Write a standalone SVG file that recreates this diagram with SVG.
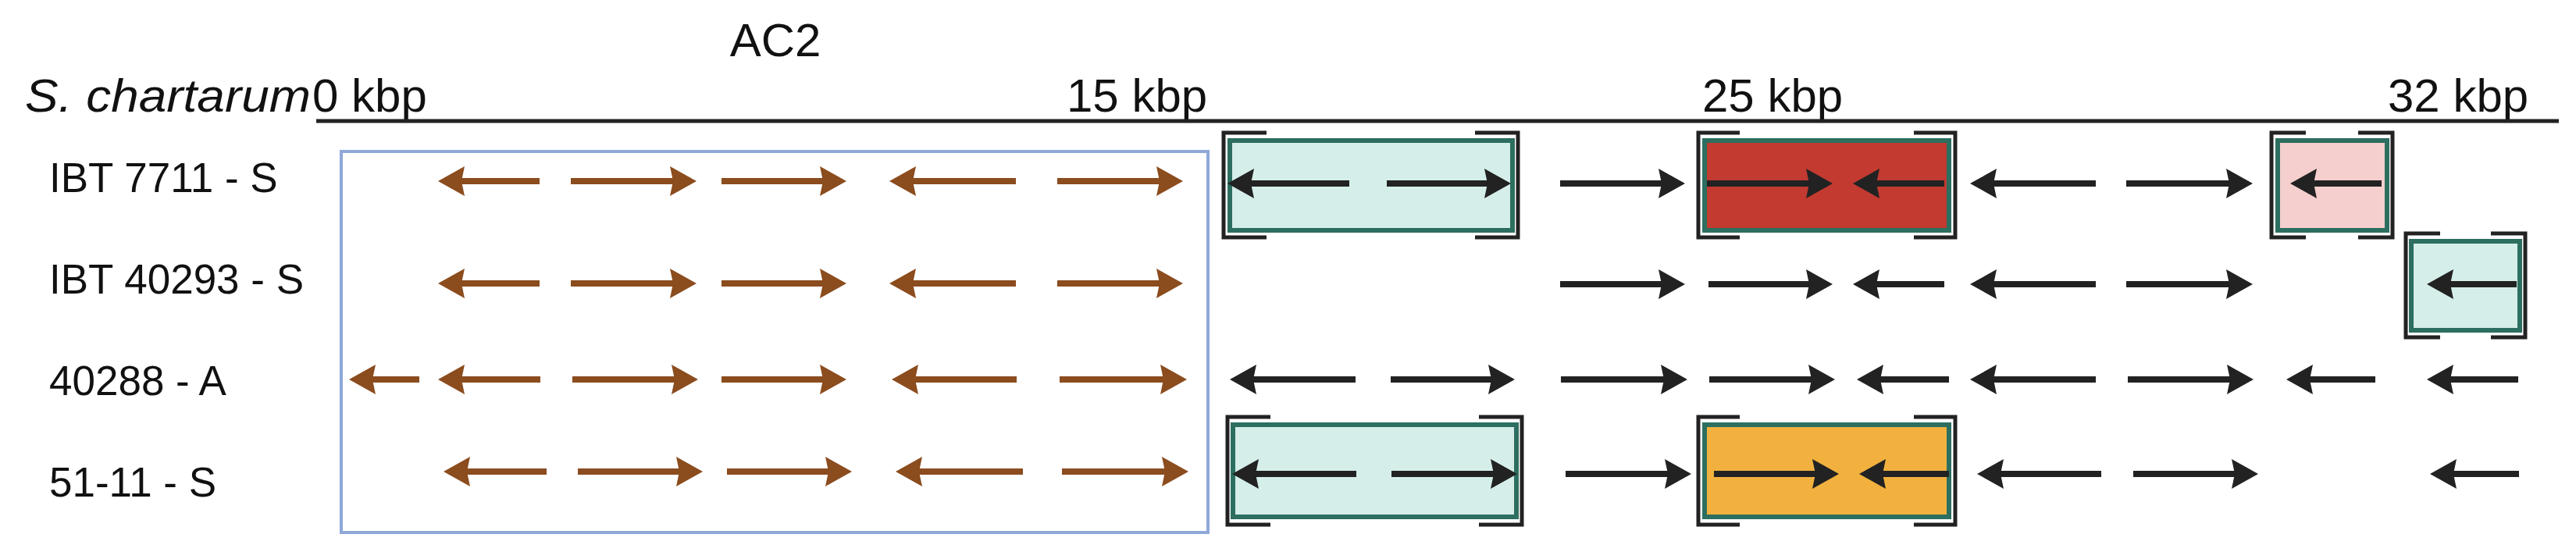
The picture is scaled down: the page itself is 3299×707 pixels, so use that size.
<svg xmlns="http://www.w3.org/2000/svg" width="3299" height="707" viewBox="0 0 3299 707">
<defs>
<style>
text{font-family:"Liberation Sans",Arial,sans-serif;fill:#111}
.lab{font-size:53px}
.ax{font-size:60px}
.b{stroke:#8b4c1e;stroke-width:8;fill:none;marker-end:url(#hb)}
.k{stroke:#222;stroke-width:8;fill:none;marker-end:url(#hk)}
.br{stroke:#222;stroke-width:5;fill:none}
.in{stroke:#2c6e5f;stroke-width:6}
</style>
<marker id="hb" markerUnits="userSpaceOnUse" markerWidth="36" markerHeight="40" refX="14" refY="19" orient="auto"><path d="M0,0 L34,19 L0,38 L4,19z" fill="#8b4c1e"/></marker>
<marker id="hk" markerUnits="userSpaceOnUse" markerWidth="36" markerHeight="40" refX="14" refY="19" orient="auto"><path d="M0,0 L34,19 L0,38 L4,19z" fill="#222"/></marker>
</defs>
<rect width="3299" height="707" fill="#fff"/>
<g id="axis">
<text x="993" y="72" class="ax" text-anchor="middle">AC2</text>
<text x="32" y="143" class="ax" font-style="italic" textLength="366" lengthAdjust="spacingAndGlyphs">S. chartarum</text>
<text x="400" y="143" class="ax">0 kbp</text>
<text x="1366" y="143" class="ax">15 kbp</text>
<text x="2180" y="143" class="ax">25 kbp</text>
<text x="3058" y="143" class="ax">32 kbp</text>
<line x1="405" y1="155" x2="3277" y2="155" stroke="#222" stroke-width="5"/>
</g>
<g id="labels">
<text x="63" y="246" class="lab">IBT 7711 - S</text>
<text x="63" y="376" class="lab">IBT 40293 - S</text>
<text x="63" y="506" class="lab">40288 - A</text>
<text x="63" y="636" class="lab">51-11 - S</text>
</g>
<g id="ac2-box"><rect x="437" y="194" width="1110" height="488" fill="none" stroke="#8fa8d8" stroke-width="4"/></g>
<g id="boxes">
<g id="box1"><rect x="1575" y="180" width="362" height="115" fill="#d5eee9" class="in"/><path class="br" d="M1622 170H1567V304H1622M1889 170H1944V304H1889"/></g>
<g id="box2"><rect x="2183" y="180" width="313" height="115" fill="#c23a30" class="in"/><path class="br" d="M2228 170H2175V304H2228M2451 170H2504V304H2451"/></g>
<g id="box3"><rect x="2917" y="180" width="140" height="115" fill="#f4cfcd" class="in"/><path class="br" d="M2953 170H2909V304H2953M3020 170H3064V304H3020"/></g>
<g id="box4"><rect x="3088" y="309" width="139" height="114" fill="#d5eee9" class="in"/><path class="br" d="M3125 299H3081V432H3125M3190 299H3234V432H3190"/></g>
<g id="box5"><rect x="1579" y="544" width="363" height="118" fill="#d5eee9" class="in"/><path class="br" d="M1627 534H1572V672H1627M1894 534H1949V672H1894"/></g>
<g id="box6"><rect x="2183" y="544" width="313" height="118" fill="#f2b13f" class="in"/><path class="br" d="M2228 534H2175V672H2228M2451 534H2504V672H2451"/></g>
</g>
<g id="connectors">
<path class="b" d="M691 232H581"/><path class="b" d="M731 232H872"/><path class="b" d="M924 232H1064"/><path class="b" d="M1301 232H1159"/><path class="b" d="M1354 232H1495"/>
<path class="b" d="M691 363H581"/><path class="b" d="M731 363H872"/><path class="b" d="M924 363H1064"/><path class="b" d="M1301 363H1159"/><path class="b" d="M1354 363H1495"/>
<path class="b" d="M537 486H467"/><path class="b" d="M692 486H581"/><path class="b" d="M733 486H874"/><path class="b" d="M924 486H1064"/><path class="b" d="M1302 486H1162"/><path class="b" d="M1357 486H1500"/>
<path class="b" d="M700 604H588"/><path class="b" d="M740 604H880"/><path class="b" d="M931 604H1071"/><path class="b" d="M1310 604H1167"/><path class="b" d="M1360 604H1502"/>
<path class="k" d="M1728 235H1592"/><path class="k" d="M1776 235H1915"/><path class="k" d="M1998 235H2138"/><path class="k" d="M2186 235H2327"/><path class="k" d="M2490 235H2393"/><path class="k" d="M2684 235H2543"/><path class="k" d="M2723 235H2865"/><path class="k" d="M3050 235H2953"/>
<path class="k" d="M1998 364H2138"/><path class="k" d="M2188 364H2327"/><path class="k" d="M2490 364H2393"/><path class="k" d="M2684 364H2543"/><path class="k" d="M2723 364H2865"/><path class="k" d="M3223 364H3128"/>
<path class="k" d="M1736 486H1595"/><path class="k" d="M1781 486H1920"/><path class="k" d="M1999 486H2141"/><path class="k" d="M2189 486H2330"/><path class="k" d="M2496 486H2398"/><path class="k" d="M2684 486H2543"/><path class="k" d="M2725 486H2866"/><path class="k" d="M3042 486H2948"/><path class="k" d="M3225 486H3128"/>
<path class="k" d="M1737 607H1598"/><path class="k" d="M1782 607H1923"/><path class="k" d="M2005 607H2146"/><path class="k" d="M2195 607H2335"/><path class="k" d="M2496 607H2401"/><path class="k" d="M2691 607H2552"/><path class="k" d="M2732 607H2872"/><path class="k" d="M3226 607H3132"/>
</g>
</svg>
